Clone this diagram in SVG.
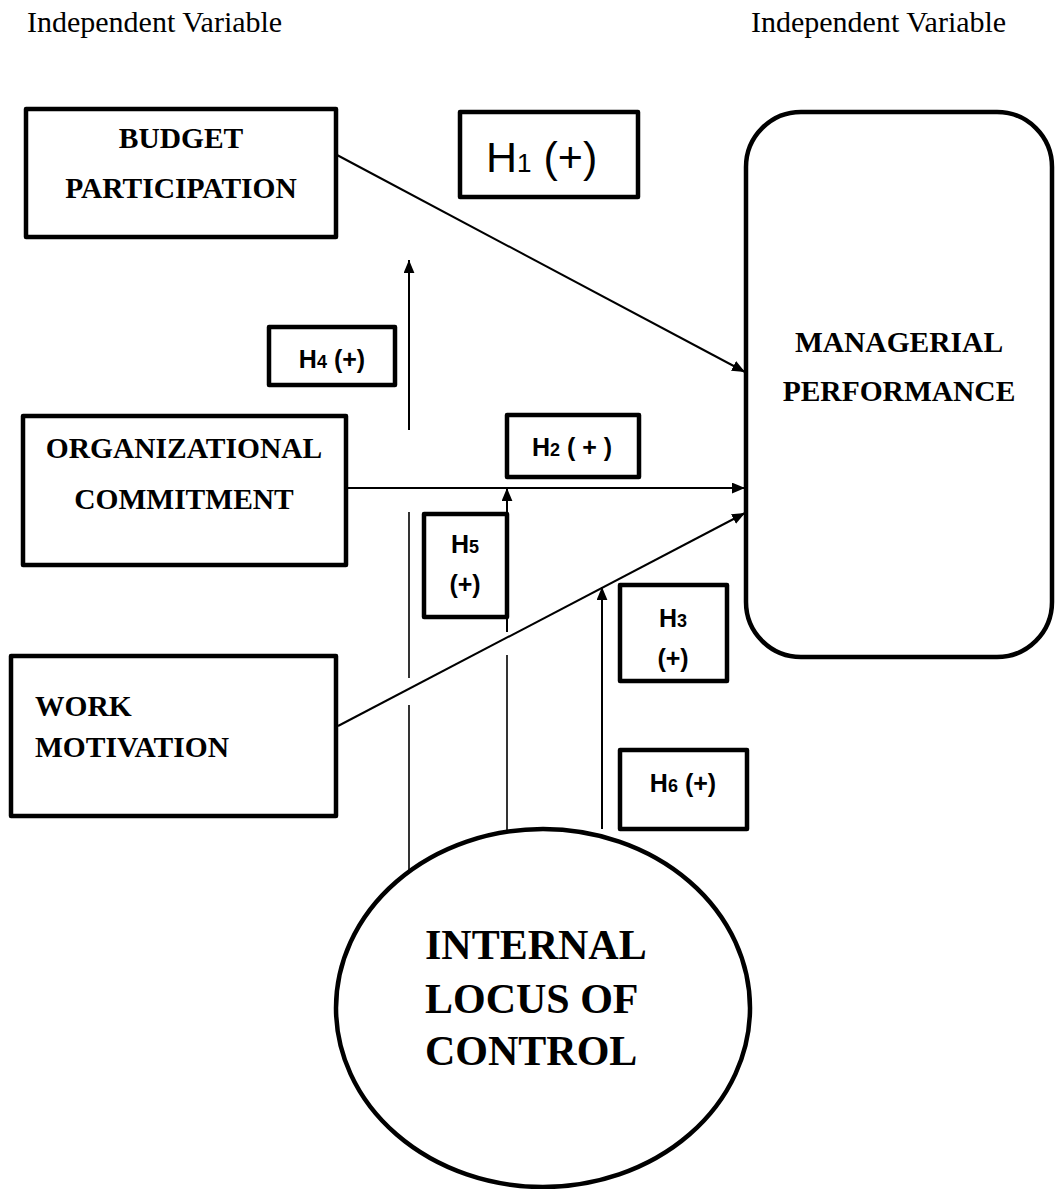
<svg xmlns="http://www.w3.org/2000/svg" width="1055" height="1189" viewBox="0 0 1055 1189">
<style>
.box{fill:#fff;stroke:#000;stroke-width:4.5;stroke-linejoin:round}
.hbox{fill:#fff;stroke:#000;stroke-width:4.5;stroke-linejoin:round}
.conn{stroke:#000;stroke-width:2;fill:none}
.thin{stroke:#000;stroke-width:1.6;fill:none}
.node{font-family:"Liberation Serif","Times New Roman",serif;font-weight:bold;font-size:29.5px;fill:#000}
.big{font-family:"Liberation Serif","Times New Roman",serif;font-weight:bold;font-size:42px;fill:#000}
.hdr{font-family:"Liberation Serif","Times New Roman",serif;font-size:30px;fill:#000}
.h{font-family:"Liberation Sans",Arial,sans-serif;font-weight:bold;font-size:25px;fill:#000}
.h1{font-family:"Liberation Sans",Arial,sans-serif;font-size:43px;fill:#000}
</style>
<defs>
<marker id="arr" viewBox="0 0 12 10" refX="12" refY="5" markerWidth="13" markerHeight="11" markerUnits="userSpaceOnUse" orient="auto">
<path d="M0,0 L12,5 L0,10 Z" fill="#000"/>
</marker>
</defs>
<rect width="1055" height="1189" fill="#fff"/>
<text class="hdr" x="27" y="32">Independent Variable</text>
<text class="hdr" x="751" y="32">Independent Variable</text>

<g id="connectors">
<line class="conn" x1="337" y1="155" x2="745" y2="372" marker-end="url(#arr)"/>
<line class="conn" x1="347" y1="488" x2="745" y2="488" marker-end="url(#arr)"/>
<line class="conn" x1="338" y1="726" x2="745" y2="513" marker-end="url(#arr)"/>
<line class="thin" x1="409" y1="872" x2="409" y2="705"/>
<line class="thin" x1="409" y1="678" x2="409" y2="512"/>
<line class="conn" x1="409" y1="430" x2="409" y2="260" marker-end="url(#arr)"/>
<line class="thin" x1="507" y1="831" x2="507" y2="655"/>
<line class="conn" x1="507" y1="632" x2="507" y2="488" marker-end="url(#arr)"/>
<line class="conn" x1="602" y1="829" x2="602" y2="587" marker-end="url(#arr)"/>
</g>

<g id="budget">
<rect class="box" x="26" y="109" width="310" height="128"/>
<text class="node" x="181" y="148" text-anchor="middle">BUDGET</text>
<text class="node" x="181" y="198" text-anchor="middle">PARTICIPATION</text>
</g>
<g id="h1">
<rect class="hbox" x="460" y="112" width="178" height="85"/>
<text class="h1" x="486" y="172">H<tspan font-size="26">1</tspan> (+)</text>
</g>
<g id="h4">
<rect class="hbox" x="269" y="327" width="126" height="58"/>
<text class="h" x="332" y="368" text-anchor="middle">H<tspan font-size="18">4</tspan> (+)</text>
</g>
<g id="org">
<rect class="box" x="23" y="416" width="323" height="149"/>
<text class="node" x="184" y="458" text-anchor="middle">ORGANIZATIONAL</text>
<text class="node" x="184" y="509" text-anchor="middle">COMMITMENT</text>
</g>
<g id="h2">
<rect class="hbox" x="507" y="415" width="132" height="62"/>
<text class="h" x="572" y="456" text-anchor="middle">H<tspan font-size="18">2</tspan> ( + )</text>
</g>
<g id="h5">
<rect class="hbox" x="424" y="514" width="83" height="103"/>
<text class="h" x="465" y="553" text-anchor="middle">H<tspan font-size="18">5</tspan></text>
<text class="h" x="465" y="593" text-anchor="middle">(+)</text>
</g>
<g id="h3">
<rect class="hbox" x="620" y="585" width="107" height="96"/>
<text class="h" x="673" y="627" text-anchor="middle">H<tspan font-size="18">3</tspan></text>
<text class="h" x="673" y="667" text-anchor="middle">(+)</text>
</g>
<g id="h6">
<rect class="hbox" x="620" y="750" width="127" height="79"/>
<text class="h" x="683" y="792" text-anchor="middle">H<tspan font-size="18">6</tspan> (+)</text>
</g>
<g id="work">
<rect class="box" x="11" y="656" width="325" height="160"/>
<text class="node" x="35" y="716">WORK</text>
<text class="node" x="35" y="757">MOTIVATION</text>
</g>
<g id="managerial">
<rect class="box" x="746" y="112" width="306" height="545" rx="55" ry="55"/>
<text class="node" x="899" y="352" text-anchor="middle">MANAGERIAL</text>
<text class="node" x="899" y="401" text-anchor="middle">PERFORMANCE</text>
</g>
<g id="locus">
<ellipse class="box" cx="543" cy="1008" rx="207" ry="179"/>
<text class="big" x="425" y="959">INTERNAL</text>
<text class="big" x="425" y="1013">LOCUS OF</text>
<text class="big" x="425" y="1065">CONTROL</text>
</g>
</svg>
